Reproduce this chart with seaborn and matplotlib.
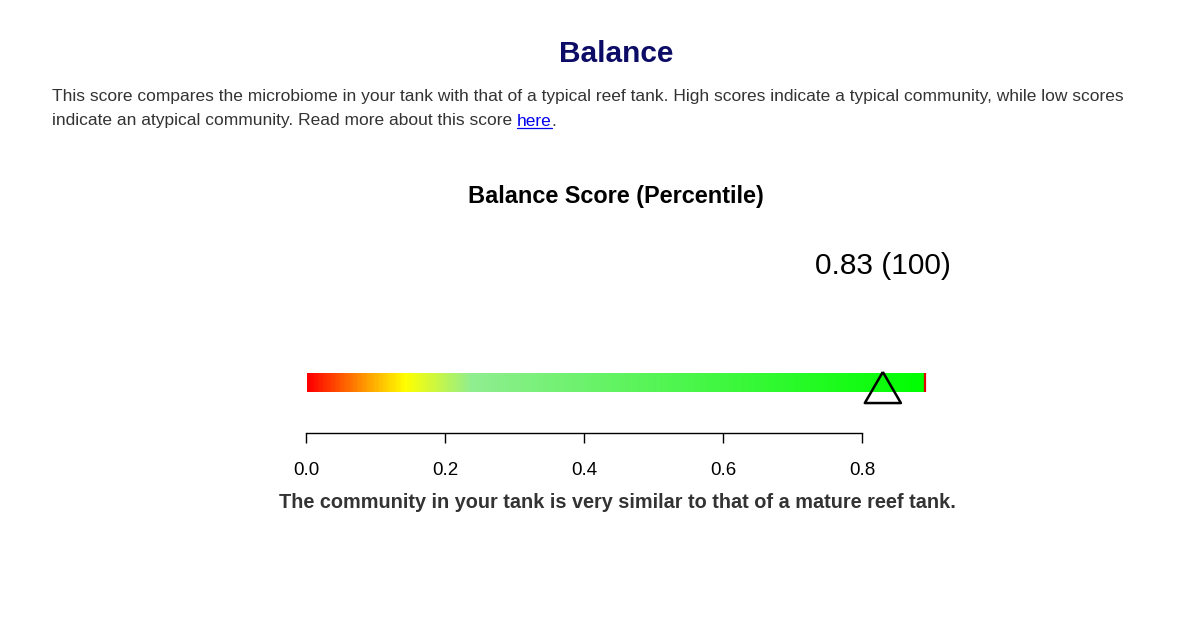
import numpy as np
import matplotlib
matplotlib.use("Agg")
import matplotlib.pyplot as plt
from matplotlib.colors import LinearSegmentedColormap
import seaborn as sns
import pandas as pd

# ---- data ----
score = 0.83
percentile = 100
bar_max = 0.89
tick_values = [0.0, 0.2, 0.4, 0.6, 0.8]
tick_labels = ["0.0", "0.2", "0.4", "0.6", "0.8"]
gradient_stops = [0.0, 0.088, 0.14, 0.236, 0.89]
gradient_colors = ["#ff0000", "#ffa500", "#ffff00", "#90ee90", "#00ff00"]
header = "Balance"
para_line1 = ("This score compares the microbiome in your tank with that of a typical reef tank. "
              "High scores indicate a typical community, while low scores")
para_line2 = "indicate an atypical community. Read more about this score "
link_text = "here"
chart_title = "Balance Score (Percentile)"
caption = "The community in your tank is very similar to that of a mature reef tank."

sns.set_style("white")
plt.rcParams["font.family"] = ["Liberation Sans", "DejaVu Sans"]

W, H = 1200, 620
fig = plt.figure(figsize=(W / 100, H / 100), dpi=100)


def fx(px):
    return px / W


def fy(py):
    return 1 - py / H


PFS = 12.5
# header and paragraph
fig.text(fx(616), fy(54), header, ha="center", va="center", fontsize=21.5,
         fontweight="bold", color="#0c0c66")
fig.text(fx(52), fy(96), para_line1, ha="left", va="center", fontsize=PFS, color="#333333")
t2 = fig.text(fx(52), fy(121), para_line2, ha="left", va="center", fontsize=PFS, color="#333333")
fig.canvas.draw()
r = fig.canvas.get_renderer()
bb = t2.get_window_extent(r)
t3 = fig.text(bb.x1 / W, fy(121), link_text, ha="left", va="center", fontsize=PFS, color="#0000ee")
bb3 = t3.get_window_extent(r)
fig.lines.append(plt.Line2D([bb3.x0 / W, bb3.x1 / W], [fy(128), fy(128)],
                            transform=fig.transFigure, color="#0000ee", lw=0.9))
fig.text(bb3.x1 / W, fy(121), ".", ha="left", va="center", fontsize=PFS, color="#333333")

# chart title
fig.text(fx(616), fy(196), chart_title, ha="center", va="center", fontsize=16.9,
         fontweight="bold", color="black")

# gauge axes: x in data units (0 at px 306, 695 px per unit), y in pixel units
x0_px, ppu = 306, 695
xmin, xmax = -0.08, 1.0
ax_top, ax_bot = 340, 433
ax = fig.add_axes([fx(x0_px + ppu * xmin), 1 - ax_bot / H,
                   ppu * (xmax - xmin) / W, (ax_bot - ax_top) / H])
ax.set_xlim(xmin, xmax)
ax.set_ylim(ax_bot, ax_top)

cmap = LinearSegmentedColormap.from_list(
    "bal", list(zip([s / bar_max for s in gradient_stops], gradient_colors)))
grad = np.linspace(0, 1, 400).reshape(1, -1)
ax.imshow(grad, cmap=cmap, aspect="auto", extent=[0.0015, bar_max, 392, 373],
          interpolation="bilinear", zorder=1)
ax.vlines(bar_max, 373, 392, color="#e00000", lw=1.6, zorder=2)

tri = [(0, 0.861), (-1, -0.861), (1, -0.861), (0, 0.861)]
marker_df = pd.DataFrame({"x": [score], "y": [387.5]})
sns.scatterplot(data=marker_df, x="x", y="y", marker=tri, s=26 ** 2,
                facecolor="none", edgecolor="black", linewidth=1.8, ax=ax, zorder=3, legend=False)

ax.text(score, 266, f"{score:.2f} ({percentile})", ha="center", va="center",
        fontsize=21.5, color="black", clip_on=False)

for side in ["top", "left", "right"]:
    ax.spines[side].set_visible(False)
ax.spines["bottom"].set_bounds(tick_values[0], tick_values[-1])
ax.spines["bottom"].set_color("black")
ax.spines["bottom"].set_linewidth(1.0)
ax.set_xticks(tick_values)
ax.set_xticklabels(tick_labels)
ax.tick_params(axis="x", direction="out", length=7.2, width=1.0, pad=14.0,
               labelsize=13.5, colors="black", bottom=True)
ax.set_yticks([])
ax.set_xlabel("")
ax.set_ylabel("")
ax.patch.set_alpha(0)

fig.text(fx(617), fy(503), caption, ha="center", va="center", fontsize=14.3,
         fontweight="bold", color="#333333")

fig.savefig("out.png", dpi=100, facecolor="white")
